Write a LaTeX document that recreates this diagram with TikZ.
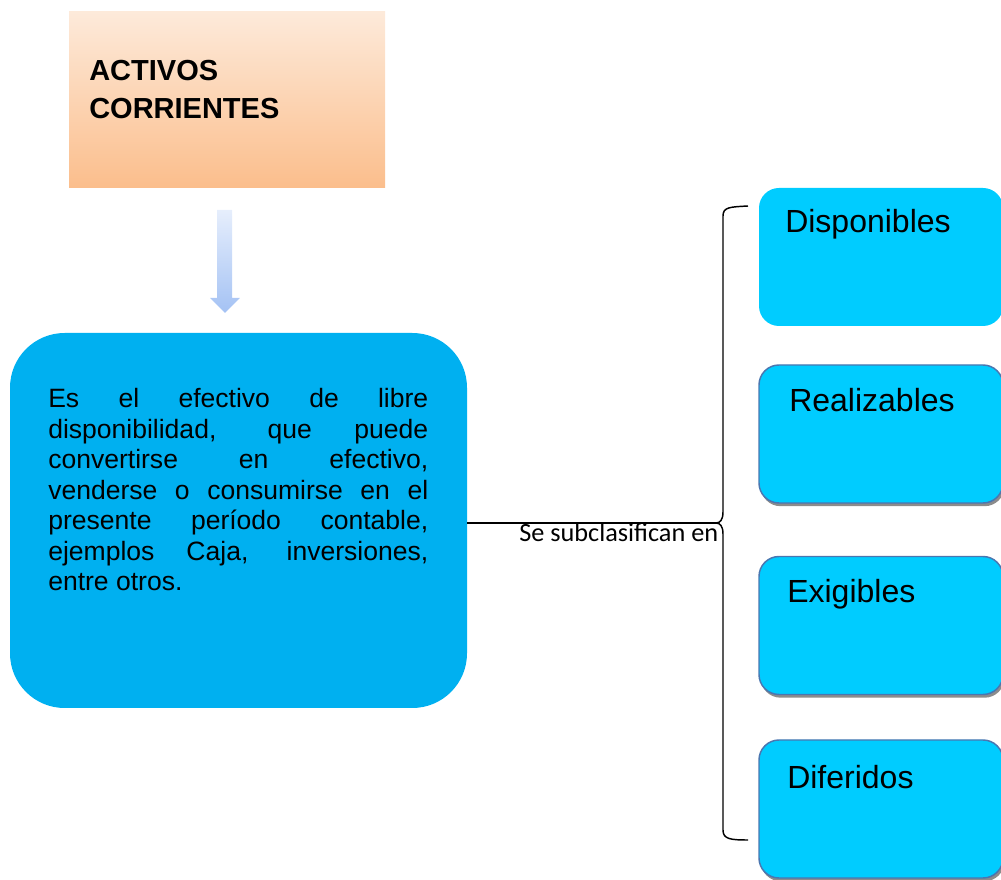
\documentclass[tikz,border=0pt]{standalone}
\usepackage{fontspec}
\setmainfont{Liberation Sans}
\newfontfamily\calibri{Carlito}
\usetikzlibrary{shadows}
\definecolor{bigblue}{HTML}{00B0F0}
\definecolor{boxblue}{HTML}{00CCFF}
\definecolor{edgeblue}{HTML}{4A76B0}
\definecolor{orTop}{HTML}{FDEADA}
\definecolor{orBot}{HTML}{FBBE8C}
\definecolor{arTop}{HTML}{E6EEFC}
\definecolor{arBot}{HTML}{A4C2F4}
\tikzset{
  bigbox/.style={rectangle, rounded corners=41pt, fill=bigblue, inner sep=0pt,
    minimum width=342.75pt, minimum height=281.25pt},
  headbox/.style={rectangle, top color=orTop, bottom color=orBot, inner sep=0pt,
    minimum width=237pt, minimum height=132pt},
  rbox/.style={rectangle, rounded corners=15pt, fill=boxblue, inner sep=0pt,
    minimum width=183pt, minimum height=103.5pt},
  rboxs/.style={rbox, draw=edgeblue, line width=1.1pt,
    drop shadow={shadow xshift=1.2pt, shadow yshift=-2.4pt, fill=black!45, opacity=1}},
  rlabel/.style={anchor=base west, inner sep=0pt, font=\fontsize{24}{28}\selectfont},
  brace/.style={draw=black, line width=1.1pt},
  conn/.style={draw=black, line width=0.9pt},
}
\begin{document}
\begin{tikzpicture}[x=0.75pt, y=-0.75pt]
\useasboundingbox (0,0) rectangle (1001,880);
% header
\node[headbox] (head) at (227,100) {};
\node[anchor=base west, inner sep=0pt, align=left,
  font=\fontsize{21.75}{28.5}\selectfont\bfseries] (headtxt) at (89,119) {ACTIVOS\\CORRIENTES};
% arrow
\shade[top color=arTop, bottom color=arBot]
  (217,210) -- (232,210) -- (232,298) -- (240,298) -- (225,313) -- (210,298) -- (217,298) -- cycle;
% big box
\node[bigbox] (main) at (238.5,520.5) {};
\node[anchor=base west, inner sep=0pt, align=left,
  font=\fontsize{19.9}{22.9}\selectfont] (maintxt) at (48,591)
  {\makebox[285pt][s]{Es el efectivo de libre}\\
   \makebox[285pt][s]{disponibilidad, que puede}\\
   \makebox[285pt][s]{convertirse en efectivo,}\\
   \makebox[285pt][s]{venderse o consumirse en el}\\
   \makebox[285pt][s]{presente período contable,}\\
   \makebox[285pt][s]{ejemplos Caja, inversiones,}\\
   entre otros.};
% right boxes
\node[rbox] (disp) at (881,257) {};
\node[rboxs] (real) at (881,434) {};
\node[rboxs] (exig) at (881,625.5) {};
\node[rboxs] (dife) at (881,809) {};
\node[rlabel] (disptxt) at (785,233) {Disponibles};
\node[rlabel] (realtxt) at (789,412) {Realizables};
\node[rlabel] (exigtxt) at (787,603) {Exigibles};
\node[rlabel] (difetxt) at (787,788) {Diferidos};
% brace
\coordinate (tip) at (716,523);
\coordinate (btop) at (748,206);
\coordinate (bbot) at (748,840);
\path[brace] (btop) .. controls (730,207) and (723,207) .. (723,216)
  -- (723,512) .. controls (723,520) and (720,523) .. (tip)
  .. controls (720,523) and (723,526) .. (723,534)
  -- (723,830) .. controls (723,839) and (730,840) .. (bbot);
\path[conn] (main.east |- tip) -- (tip);
\node[anchor=base west, inner sep=0pt, font=\calibri\fontsize{19.7}{22}\selectfont]
  (sub) at (519,542) {Se subclasifican en};
\end{tikzpicture}
\end{document}
